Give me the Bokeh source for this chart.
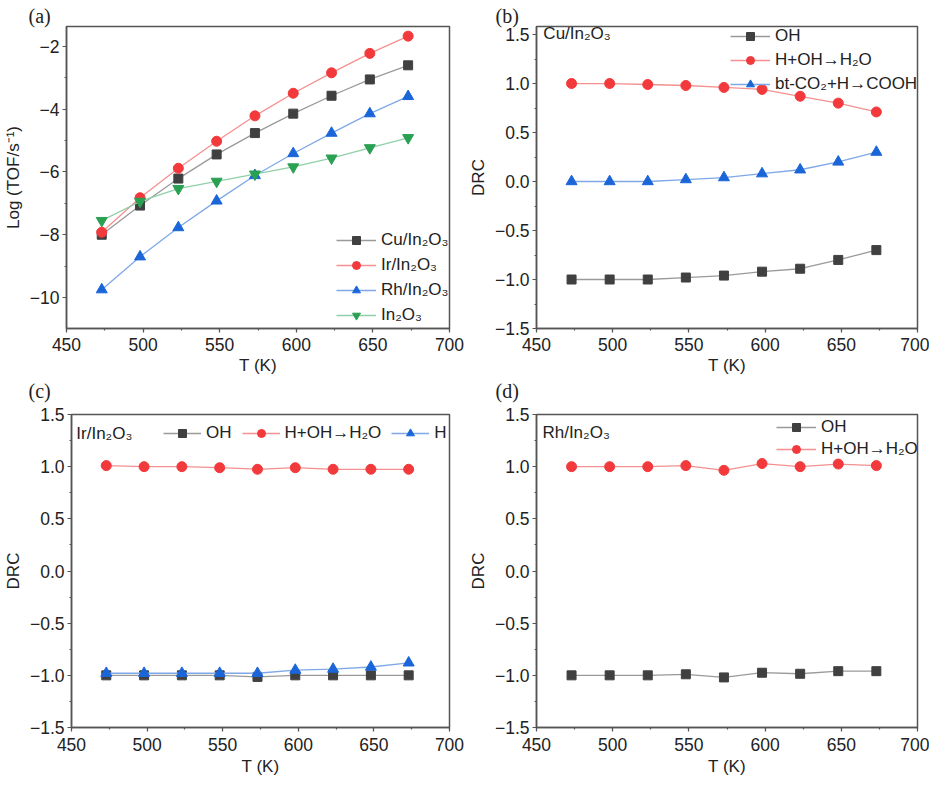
from bokeh.plotting import figure
from bokeh.layouts import column, row
from bokeh.models import (Range1d, SingleIntervalTicker, CustomJSTickFormatter,
                          Label, Title)
from bokeh.embed import file_html
from bokeh.resources import INLINE

# ---------------- data ----------------
T = [473, 498, 523, 548, 573, 598, 623, 648, 673]

a_cu = [-8.0, -7.07, -6.21, -5.44, -4.76, -4.14, -3.57, -3.05, -2.6]
a_ir = [-7.92, -6.82, -5.88, -5.02, -4.21, -3.49, -2.84, -2.22, -1.67]
a_rh = [-9.75, -8.7, -7.77, -6.92, -6.11, -5.41, -4.76, -4.14, -3.59]
a_in = [-7.55, -6.94, -6.53, -6.3, -6.07, -5.84, -5.56, -5.23, -4.91]

b_oh = [-1.0, -1.0, -1.0, -0.98, -0.96, -0.92, -0.89, -0.8, -0.7]
b_h2o = [1.0, 1.0, 0.99, 0.98, 0.96, 0.94, 0.87, 0.8, 0.71]
b_cooh = [0.0, 0.0, 0.0, 0.02, 0.04, 0.08, 0.12, 0.2, 0.3]

c_oh = [-1.0, -1.0, -1.0, -1.0, -1.015, -1.0, -1.0, -1.0, -1.0]
c_h2o = [1.01, 1.0, 1.0, 0.99, 0.975, 0.99, 0.975, 0.975, 0.975]
c_h = [-0.98, -0.98, -0.98, -0.98, -0.98, -0.95, -0.94, -0.92, -0.88]

d_oh = [-1.0, -1.0, -1.0, -0.99, -1.02, -0.975, -0.985, -0.96, -0.96]
d_h2o = [1.0, 1.0, 1.0, 1.01, 0.965, 1.03, 1.0, 1.025, 1.01]

lab_a = ["Cu/In₂O₃", "Ir/In₂O₃", "Rh/In₂O₃", "In₂O₃"]
lab_b = ["OH", "H+OH→H₂O", "bt-CO₂+H→COOH"]
lab_c = ["OH", "H+OH→H₂O", "H"]
lab_d = ["OH", "H+OH→H₂O"]

# ---------------- styles ----------------
STY = {
    "k": dict(mc="#404040", lc="#9a9a9a", marker="square", size=9),
    "r": dict(mc="#f23a3c", lc="#f59090", marker="circle", size=10),
    "b": dict(mc="#1a66d9", lc="#7fa8e8", marker="triangle", size=11),
    "g": dict(mc="#2aa052", lc="#8fd0a8", marker="inverted_triangle", size=11),
}
FONT = "Liberation Sans"
TXT = "#222222"
FRAME = "#555555"


def panel_title(text, off):
    return Title(text=text, align="left", offset=off, standoff=0,
                 text_font="Liberation Serif", text_font_size="20px",
                 text_font_style="normal", text_color=TXT)


def make_fig(w, h, yr, bl, br, bt, bb, yint, ylabel, ydec, lab_stand, ax_stand):
    p = figure(width=w, height=h, output_backend="svg", toolbar_location=None,
               x_range=Range1d(450, 700), y_range=Range1d(*yr),
               min_border_left=bl, min_border_right=br,
               min_border_top=bt, min_border_bottom=bb)
    p.grid.visible = False
    p.outline_line_color = FRAME
    p.outline_line_width = 1.5
    p.background_fill_color = "white"
    p.border_fill_color = "white"
    p.xaxis.ticker = SingleIntervalTicker(interval=50, num_minor_ticks=2)
    p.yaxis.ticker = SingleIntervalTicker(interval=yint, num_minor_ticks=2)
    p.xaxis.formatter = CustomJSTickFormatter(
        code="return (tick<0?'\u2212':'') + Math.abs(tick).toFixed(0);")
    p.yaxis.formatter = CustomJSTickFormatter(
        code="return (tick<0?'\u2212':'') + Math.abs(tick).toFixed(%d);" % ydec)
    for ax in (p.xaxis[0], p.yaxis[0]):
        ax.axis_line_color = FRAME
        ax.axis_line_width = 1.5
        ax.major_tick_line_color = FRAME
        ax.minor_tick_line_color = FRAME
        ax.major_tick_line_width = 1.2
        ax.minor_tick_line_width = 1.2
        ax.major_tick_out = 4
        ax.major_tick_in = 0
        ax.minor_tick_out = 2
        ax.minor_tick_in = 0
        ax.major_label_text_font = FONT
        ax.major_label_text_font_size = "17.5px"
        ax.major_label_text_color = TXT
        ax.axis_label_text_font = FONT
        ax.axis_label_text_font_size = "17px"
        ax.axis_label_text_font_style = "normal"
        ax.axis_label_text_color = TXT
    p.xaxis.axis_label = "T (K)"
    p.yaxis.axis_label = ylabel
    p.xaxis.major_label_standoff = lab_stand
    p.yaxis.major_label_standoff = 3
    p.xaxis.axis_label_standoff = ax_stand
    p.yaxis.axis_label_standoff = 4
    return p


def add_series(p, ys, key, label):
    s = STY[key]
    p.line(T, ys, line_color=s["lc"], line_width=1.3, legend_label=label)
    p.scatter(T, ys, marker=s["marker"], size=s["size"], fill_color=s["mc"],
              line_color=s["mc"], legend_label=label)


def style_legend(p, loc, spacing, orientation="vertical", glyph_w=40, stand=5,
                 label_w=20):
    lg = p.legend[0]
    lg.location = loc
    lg.orientation = orientation
    lg.padding = 0
    lg.margin = 0
    lg.border_line_alpha = 0
    lg.background_fill_alpha = 0
    lg.glyph_width = glyph_w
    lg.glyph_height = 20
    lg.label_height = 20
    lg.label_width = label_w
    lg.label_standoff = stand
    lg.spacing = spacing
    lg.label_text_font = FONT
    lg.label_text_font_size = "17px"
    lg.label_text_color = TXT
    lg.label_text_baseline = "middle"


def inner_label(p, x, y, text):
    p.add_layout(Label(x=x, y=y, text=text, text_font=FONT,
                       text_font_size="17px", text_color=TXT,
                       text_baseline="middle", text_align="left"))


# ---------------- (a) ----------------
pa = make_fig(465, 406, (-10.988, -1.363), 60, 16, 26, 78, 2, "Log (TOF/s⁻¹)", 0,
              5, 2)
pa.title = panel_title("(a)", -38)
add_series(pa, a_cu, "k", lab_a[0])
add_series(pa, a_ir, "r", lab_a[1])
add_series(pa, a_rh, "b", lab_a[2])
add_series(pa, a_in, "g", lab_a[3])
style_legend(pa, (270, 3), 5)
pa.add_layout(panel_title("(c)", -38), "below")

# ---------------- (b) ----------------
pb = make_fig(464, 406, (-1.5, 1.582), 65, 12, 26, 78, 0.5, "DRC", 1, 5, 2)
pb.title = panel_title("(b)", -41)
add_series(pb, b_oh, "k", lab_b[0])
add_series(pb, b_h2o, "r", lab_b[1])
add_series(pb, b_cooh, "b", lab_b[2])
style_legend(pb, (194, 234), 4)
inner_label(pb, 454.5, 1.51, "Cu/In₂O₃")
pb.add_layout(panel_title("(d)", -41), "below")

# ---------------- (c) ----------------
pc = make_fig(465, 374, (-1.5, 1.5), 60, 16, 8, 53, 0.5, "DRC", 1, 6, 3)
pc.title = None
add_series(pc, c_oh, "k", lab_c[0])
add_series(pc, c_h2o, "r", lab_c[1])
add_series(pc, c_h, "b", lab_c[2])
style_legend(pc, (92, 284), 10, orientation="horizontal", glyph_w=38, stand=5,
             label_w=8)
inner_label(pc, 453.2, 1.317, "Ir/In₂O₃")

# ---------------- (d) ----------------
pd_ = make_fig(464, 374, (-1.5, 1.5), 65, 12, 8, 53, 0.5, "DRC", 1, 6, 3)
pd_.title = None
add_series(pd_, d_oh, "k", lab_d[0])
add_series(pd_, d_h2o, "r", lab_d[1])
style_legend(pd_, (240, 268), 2)
inner_label(pd_, 453.9, 1.33, "Rh/In₂O₃")

layout = column(row(pa, pb), row(pc, pd_))

open("out.html", "w").write(file_html(layout, INLINE))
